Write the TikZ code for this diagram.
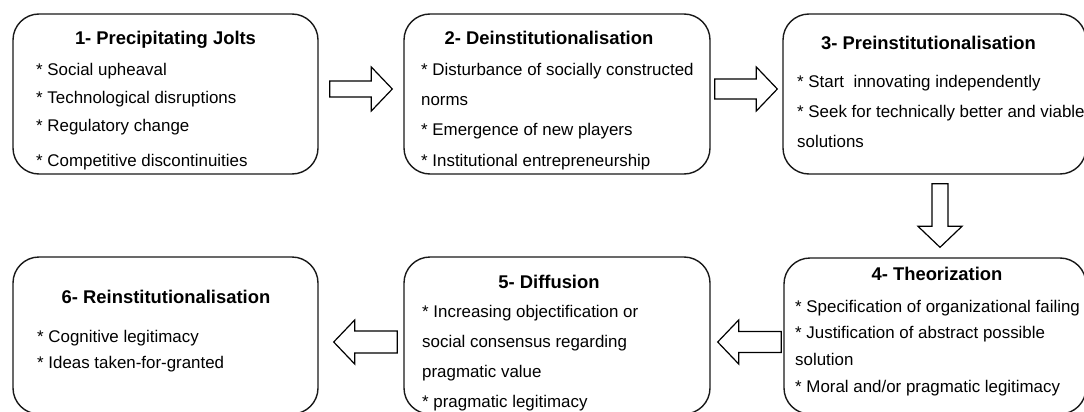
\documentclass[tikz,border=0pt]{standalone}
\usepackage{fontspec}
\setmainfont{Liberation Sans}
\usetikzlibrary{calc}

\tikzset{
  stage/.style={draw=black!90, line width=1.4pt, rounded corners=26pt,
                fill=white, inner sep=0pt},
  ttl/.style={anchor=base, inner sep=0pt,
              font=\fontsize{18.4}{22}\selectfont\bfseries},
  itm/.style={anchor=base west, inner sep=0pt,
              font=\fontsize{16.9}{20}\selectfont},
  fat/.style={draw=black, line width=1.2pt, fill=white, line join=miter},
}

% hollow block arrow from coordinate #1 to tip #2, body half-width #3
\newcommand\fatarrow[3]{%
  \coordinate (fa-h) at ($(#2)!21pt!(#1)$);
  \draw[fat] ($(#1)!#3!90:(#2)$) -- ($(fa-h)!#3!90:(#2)$)
    -- ($(fa-h)!22pt!90:(#2)$) -- (#2)
    -- ($(fa-h)!22pt!-90:(#2)$) -- ($(fa-h)!#3!-90:(#2)$)
    -- ($(#1)!#3!-90:(#2)$) -- cycle;
}

\begin{document}
\begin{tikzpicture}[x=1pt, y=-1pt]
  \useasboundingbox (0,0) rectangle (1084,412);
  \fill[white] (0,0) rectangle (1084,412);
  \clip (0,0) rectangle (1084,412);

  % stage boxes
  \node[stage, minimum width=305pt, minimum height=160pt] (b1) at (165.5,94) {};
  \node[stage, minimum width=306pt, minimum height=160pt] (b2) at (557,94) {};
  \node[stage, minimum width=303pt, minimum height=160pt] (b3) at (934.5,94) {};
  \node[stage, minimum width=302pt, minimum height=156pt] (b4) at (935,336) {};
  \node[stage, minimum width=306pt, minimum height=157pt] (b5) at (557,335.5) {};
  \node[stage, minimum width=305pt, minimum height=157pt] (b6) at (165.5,335.5) {};

  % 1
  \node[ttl] (t1) at (165.5,45) {1- Precipitating Jolts};
  \node[itm] (i1a) at (36,76)  {* Social upheaval};
  \node[itm] (i1b) at (36,103) {* Technological disruptions};
  \node[itm] (i1c) at (36,131) {* Regulatory change};
  \node[itm] (i1d) at (36,166) {* Competitive discontinuities};

  % 2
  \node[ttl] (t2) at (549,45) {2- Deinstitutionalisation};
  \node[itm] (i2a) at (421,76)  {* Disturbance of socially constructed};
  \node[itm] (i2b) at (421,105) {norms};
  \node[itm] (i2c) at (421,135) {* Emergence of new players};
  \node[itm] (i2d) at (421,166) {* Institutional entrepreneurship};

  % 3
  \node[ttl] (t3) at (928.5,50) {3- Preinstitutionalisation};
  \node[itm] (i3a) at (797,88)  {* Start\ \ innovating independently};
  \node[itm] (i3b) at (797,117) {* Seek for technically better and viable};
  \node[itm] (i3c) at (797,147) {solutions};

  % 4
  \node[ttl] (t4) at (937,280) {4- Theorization};
  \node[itm] (i4a) at (795,312) {* Specification of organizational failing};
  \node[itm] (i4b) at (795,338) {* Justification of abstract possible};
  \node[itm] (i4c) at (795,365) {solution};
  \node[itm] (i4d) at (795,392) {* Moral and/or pragmatic legitimacy};

  % 5
  \node[ttl] (t5) at (549,288) {5- Diffusion};
  \node[itm] (i5a) at (422,317) {* Increasing objectification or};
  \node[itm] (i5b) at (422,347) {social consensus regarding};
  \node[itm] (i5c) at (422,377) {pragmatic value};
  \node[itm] (i5d) at (422,407) {* pragmatic legitimacy};

  % 6
  \node[ttl] (t6) at (166,303) {6- Reinstitutionalisation};
  \node[itm] (i6a) at (37,342) {* Cognitive legitimacy};
  \node[itm] (i6b) at (37,368) {* Ideas taken-for-granted};

  % block arrows between the stages
  \coordinate (a1s) at ($(b1.east)+(11,-5)$);
  \coordinate (a1e) at ($(b2.west)+(-11,-5)$);
  \coordinate (a2s) at ($(b2.east)+(4,-5)$);
  \coordinate (a2e) at ($(b3.west)+(-5,-5)$);
  \coordinate (a3s) at ($(b3.south)+(5.5,9)$);
  \coordinate (a3e) at ($(b4.north)+(5,-10)$);
  \coordinate (a4s) at ($(b4.west)+(-2,6)$);
  \coordinate (a4e) at ($(b5.east)+(7,6.5)$);
  \coordinate (a5s) at ($(b5.west)+(-6,6.5)$);
  \coordinate (a5e) at ($(b6.east)+(15,6.5)$);

  \fatarrow{a1s}{a1e}{8pt}
  \fatarrow{a2s}{a2e}{10pt}
  \fatarrow{a3s}{a3e}{8pt}
  \fatarrow{a4s}{a4e}{10.5pt}
  \fatarrow{a5s}{a5e}{11pt}
\end{tikzpicture}
\end{document}
